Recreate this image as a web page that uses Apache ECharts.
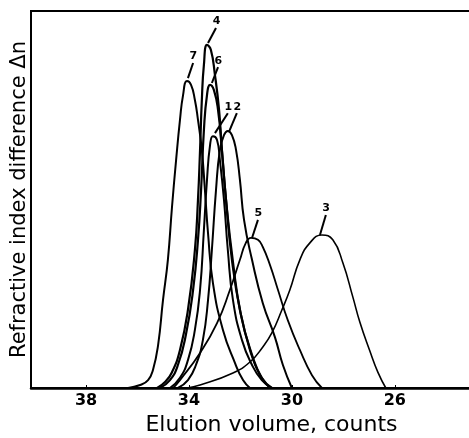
<!DOCTYPE html>
<html>
<head>
<meta charset="utf-8">
<script src="https://cdn.jsdelivr.net/npm/echarts@6/dist/echarts.min.js"></script>
<style>
  html, body { margin: 0; padding: 0; background: #fff; }
  #chart { width: 469px; height: 438px; }
</style>
</head>
<body>
<div id="chart"></div>
<script>
// elution volume (counts), refractive index difference (arbitrary, 0-100)
const curve7 = [
  [36.37, 0], [35.90, 0.8], [35.59, 2.1], [35.40, 4.8], [35.20, 11.4], [35.01, 23.3],
  [34.82, 34.0], [34.66, 48.0], [34.50, 60.5], [34.35, 71.1], [34.23, 77.7], [34.08, 81.4],
  [33.92, 80.4], [33.77, 76.4], [33.65, 71.1], [33.50, 63.1], [33.38, 52.5], [33.26, 41.1],
  [33.07, 27.9], [32.68, 15.4], [32.21, 6.6], [31.90, 2.1], [31.63, 0]
]
const curve4 = [
  [35.24, 0], [34.93, 1.6], [34.66, 4.2], [34.35, 10.1], [34.04, 20.7], [33.77, 36.6],
  [33.65, 49.9], [33.57, 63.1], [33.50, 76.4], [33.42, 85.7], [33.30, 91.0], [33.15, 89.7],
  [32.99, 83.0], [32.83, 73.7], [32.72, 63.1], [32.56, 49.9], [32.33, 34.0], [32.02, 20.7],
  [31.63, 10.1], [31.24, 3.4], [30.85, 0]
]
const curve6 = [
  [35.13, 0], [34.74, 2.1], [34.43, 6.1], [34.12, 14.1], [33.84, 26.0], [33.65, 39.3],
  [33.53, 52.5], [33.42, 68.4], [33.30, 77.7], [33.18, 80.4], [33.03, 79.0], [32.87, 73.7],
  [32.72, 63.1], [32.56, 49.9], [32.29, 33.4], [31.98, 19.4], [31.55, 8.8], [31.17, 2.7],
  [30.78, 0]
]
const curve1 = [
  [34.74, 0], [34.35, 2.7], [34.04, 7.4], [33.77, 15.4], [33.57, 26.0], [33.42, 41.9],
  [33.30, 55.2], [33.18, 64.5], [33.07, 66.8], [32.91, 65.8], [32.80, 60.5], [32.64, 49.9],
  [32.49, 36.6], [32.29, 23.3], [31.94, 12.7], [31.55, 6.1], [31.17, 2.1], [30.78, 0]
]
const curve2 = [
  [34.43, 0], [34.04, 2.1], [33.73, 6.1], [33.46, 12.7], [33.26, 23.3], [33.11, 36.6],
  [32.95, 52.5], [32.80, 63.1], [32.64, 67.1], [32.49, 68.2], [32.33, 67.1], [32.17, 63.1],
  [32.02, 55.2], [31.86, 44.6], [31.55, 34.0], [31.13, 22.5], [30.66, 13.5], [30.35, 6.1],
  [30.00, 0]
]
const curve5 = [
  [34.62, 0], [34.35, 2.1], [33.57, 9.3], [32.91, 17.2], [32.41, 26.0], [32.02, 34.0],
  [31.79, 38.5], [31.59, 39.8], [31.32, 39.3], [31.13, 37.4], [30.85, 32.6], [30.54, 26.0],
  [30.16, 18.0], [29.69, 10.1], [29.22, 3.4], [28.83, 0]
]
const curve3 = [
  [34.08, 0], [33.57, 0.8], [32.29, 4.0], [31.63, 6.9], [31.13, 10.9], [30.78, 14.6],
  [30.39, 20.7], [30.08, 26.0], [29.69, 34.0], [29.30, 38.5], [28.83, 40.6], [28.41, 39.3],
  [28.02, 33.2], [27.63, 24.1], [27.36, 17.5], [26.97, 9.8], [26.66, 4.2], [26.35, 0]
]

// peak label: name, leader line start (at peak) and end
const peakLabels = [
  ['7', [34.04, 82.2], [33.84, 86.2]],
  ['4', [33.26, 91.5], [32.95, 95.5]],
  ['6', [33.11, 80.9], [32.87, 85.1]],
  ['1', [32.99, 67.6], [32.49, 72.9]],
  ['2', [32.45, 67.9], [32.14, 72.9]],
  ['5', [31.55, 39.8], [31.32, 44.6]],
  ['3', [28.91, 40.6], [28.68, 45.9]]
]

const xTicks = [26, 30, 34, 38]

const curves = [
  { name: '7', data: curve7, width: 2 },
  { name: '4', data: curve4, width: 2.2 },
  { name: '6', data: curve6, width: 2.2 },
  { name: '1', data: curve1, width: 2 },
  { name: '2', data: curve2, width: 2 },
  { name: '5', data: curve5, width: 1.8 },
  { name: '3', data: curve3, width: 1.6 }
]

const chart = echarts.init(document.getElementById('chart'))

const series = curves.map(c => ({
  name: c.name,
  type: 'line',
  data: c.data,
  smooth: 0.5,
  showSymbol: false,
  lineStyle: { color: '#000', width: c.width },
  silent: true
}))

// leader lines + numbers
series.push({
  type: 'line',
  data: [],
  silent: true,
  markLine: {
    symbol: 'none',
    animation: false,
    lineStyle: { color: '#000', width: 2, type: 'solid' },
    label: {
      show: true,
      position: 'end',
      distance: 1,
      color: '#000',
      fontFamily: 'DejaVu Sans',
      fontWeight: 'bold',
      fontSize: 11,
      formatter: p => p.data.labelText
    },
    data: peakLabels.map(p => [
      { coord: p[1], labelText: p[0] },
      { coord: p[2] }
    ])
  }
})

chart.setOption({
  animation: false,
  backgroundColor: '#fff',
  grid: {
    left: 31,
    top: 11,
    right: -3,
    bottom: 50,
    outerBoundsMode: 'none',
    show: true,
    borderColor: '#000',
    borderWidth: 2
  },
  xAxis: {
    type: 'value',
    inverse: true,
    min: 23,
    max: 40.14,
    name: 'Elution volume, counts',
    nameLocation: 'middle',
    nameGap: 26,
    nameTextStyle: {
      color: '#000',
      fontFamily: 'DejaVu Sans',
      fontSize: 22,
      padding: [0, 0, 0, 40]
    },
    axisLine: { lineStyle: { color: '#000', width: 2.5 } },
    axisTick: { show: true, inside: true, length: 3, customValues: xTicks, lineStyle: { color: '#000' } },
    splitLine: { show: false },
    axisLabel: {
      customValues: xTicks,
      color: '#000',
      fontFamily: 'DejaVu Sans',
      fontWeight: 'bold',
      fontSize: 16,
      margin: 5
    }
  },
  yAxis: {
    type: 'value',
    min: 0,
    max: 100,
    name: 'Refractive index difference Δn',
    nameLocation: 'middle',
    nameGap: 1,
    nameTextStyle: {
      color: '#000',
      fontFamily: 'DejaVu Sans',
      fontSize: 21
    },
    axisLine: { show: true, lineStyle: { color: '#000', width: 2 } },
    axisTick: { show: false },
    axisLabel: { show: false },
    splitLine: { show: false }
  },
  series
})
</script>
</body>
</html>
